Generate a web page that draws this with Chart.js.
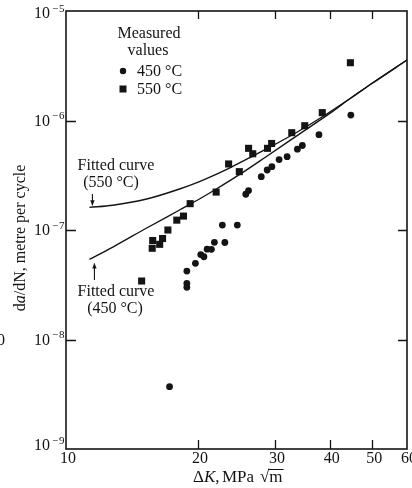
<!DOCTYPE html>
<html><head><meta charset="utf-8">
<script src="https://cdn.jsdelivr.net/npm/chart.js@4/dist/chart.umd.min.js"></script>
<style>html,body{margin:0;padding:0;background:#fff;overflow:hidden}#wrap{width:412px;height:488px}</style>
</head><body><div id="wrap"><canvas id="c" width="412" height="488"></canvas></div>
<script>
// ---- data (ΔK in MPa√m, da/dN in metre per cycle) ----
const deltaK450 = [17.23, 18.87, 18.87, 18.87, 19.74, 20.30, 20.64, 20.99, 21.47, 21.81, 22.74, 23.04, 24.60, 25.72, 26.10, 27.90, 28.78, 29.50, 30.64, 31.96, 33.73, 34.62, 37.78, 44.67];
const rate450   = [3.71e-9, 4.22e-8, 3.26e-8, 3.00e-8, 4.96e-8, 5.97e-8, 5.70e-8, 6.68e-8, 6.66e-8, 7.72e-8, 1.11e-7, 7.69e-8, 1.11e-7, 2.12e-7, 2.29e-7, 3.07e-7, 3.53e-7, 3.79e-7, 4.40e-7, 4.67e-7, 5.47e-7, 5.91e-7, 7.42e-7, 1.12e-6];
const deltaK550 = [14.88, 15.73, 15.77, 16.36, 16.61, 17.08, 17.90, 18.54, 19.20, 22.01, 23.50, 24.86, 26.10, 26.68, 28.83, 29.46, 32.75, 35.06, 38.44, 44.56];
const rate550   = [3.42e-8, 6.81e-8, 8.02e-8, 7.40e-8, 8.36e-8, 1.00e-7, 1.23e-7, 1.34e-7, 1.74e-7, 2.22e-7, 4.01e-7, 3.41e-7, 5.57e-7, 4.97e-7, 5.57e-7, 6.17e-7, 7.74e-7, 8.96e-7, 1.18e-6, 3.37e-6];
const fitK550    = [11.31, 12.79, 15.28, 18.16, 20.16, 23.47, 26.19, 29.39, 34.02, 38.38, 44.67, 49.87, 60];
const fitRate550 = [1.61e-7, 1.685e-7, 1.92e-7, 2.37e-7, 2.77e-7, 3.64e-7, 4.55e-7, 5.79e-7, 8.02e-7, 1.076e-6, 1.605e-6, 2.177e-6, 3.57e-6];
const fitK450    = [11.31, 12.79, 15.28, 18.16, 20.16, 22.03, 24.86, 28.62, 34.02, 40.44, 44.67, 49.87, 60];
const fitRate450 = [5.38e-8, 6.99e-8, 1.043e-7, 1.523e-7, 1.919e-7, 2.368e-7, 3.20e-7, 4.67e-7, 7.48e-7, 1.198e-6, 1.605e-6, 2.177e-6, 3.57e-6];
const xTickLabels = [10, 20, 30, 40, 50, 60];
const yTickExponents = [-5, -6, -7, -8, -9];

const pts = (xs, ys) => xs.map((v, i) => ({x: v, y: ys[i]}));
const INK = '#141414';
const SERIF = '"Liberation Serif", "DejaVu Serif", serif';

const deco = {
  id: 'deco',
  afterDraw(chart) {
    const {ctx, chartArea: ca, scales: {x, y}} = chart;
    ctx.save();
    ctx.strokeStyle = INK; ctx.fillStyle = INK;
    // frame
    ctx.lineWidth = 1.6;
    ctx.strokeRect(ca.left, ca.top, ca.width, ca.height);
    ctx.lineWidth = 1.3;
    // x ticks (inward, top & bottom)
    xTickLabels.forEach(v => {
      if (v === 10 || v === 60) return;
      const px = Math.round(x.getPixelForValue(v)) + 0.5;
      ctx.beginPath();
      ctx.moveTo(px, ca.bottom); ctx.lineTo(px, ca.bottom - 9);
      ctx.moveTo(px, ca.top); ctx.lineTo(px, ca.top + 8);
      ctx.stroke();
    });
    // y ticks
    yTickExponents.forEach(e => {
      if (e === -5 || e === -9) return;
      const py = Math.round(y.getPixelForValue(Math.pow(10, e))) + 0.5;
      ctx.beginPath();
      ctx.moveTo(ca.left, py); ctx.lineTo(ca.left + 10, py);
      ctx.moveTo(ca.right, py); ctx.lineTo(ca.right - 9, py);
      ctx.stroke();
    });
    // x tick labels
    ctx.font = '16px ' + SERIF;
    ctx.textAlign = 'center'; ctx.textBaseline = 'middle';
    xTickLabels.forEach(v => {
      ctx.fillText(String(v), x.getPixelForValue(v) + 2, 459);
    });
    // y tick labels 10^-n
    yTickExponents.forEach(e => {
      const py = Math.min(Math.max(y.getPixelForValue(Math.pow(10, e)) + 1, 14), 446);
      ctx.font = '16px ' + SERIF; ctx.textAlign = 'right'; ctx.textBaseline = 'middle';
      ctx.fillText('10', 50, py);
      ctx.font = '11px ' + SERIF; ctx.textAlign = 'left';
      ctx.fillText('\u2212', 52, py - 5);
      ctx.fillText(String(-e), 59, py - 5);
    });
    // legend
    ctx.font = '16px ' + SERIF; ctx.textAlign = 'center'; ctx.textBaseline = 'middle';
    ctx.fillText('Measured', 149, 34);
    ctx.fillText('values', 148, 51);
    ctx.beginPath(); ctx.arc(123, 71, 3.2, 0, Math.PI * 2); ctx.fill();
    ctx.fillRect(119.5, 85.5, 7, 7);
    ctx.textAlign = 'left';
    ctx.fillText('450 \u00B0C', 137, 72);
    ctx.fillText('550 \u00B0C', 137, 90);
    // fitted curve annotations
    ctx.textAlign = 'center';
    ctx.fillText('Fitted curve', 116, 166);
    ctx.fillText('(550 \u00B0C)', 111, 183);
    ctx.fillText('Fitted curve', 116, 292);
    ctx.fillText('(450 \u00B0C)', 115, 309);
    // arrows
    ctx.lineWidth = 1.1;
    const ax1 = x.getPixelForValue(fitK550[0]) + 3;
    const ty1 = y.getPixelForValue(fitRate550[0]) - 2;
    ctx.beginPath(); ctx.moveTo(ax1, 194); ctx.lineTo(ax1, ty1); ctx.stroke();
    ctx.beginPath(); ctx.moveTo(ax1 - 2.2, ty1 - 5); ctx.lineTo(ax1 + 2.2, ty1 - 5); ctx.lineTo(ax1, ty1 + 0.5); ctx.closePath(); ctx.fill();
    const ax2 = x.getPixelForValue(fitK450[0]) + 5;
    const ty2 = y.getPixelForValue(fitRate450[0]) + 4;
    ctx.beginPath(); ctx.moveTo(ax2, 280); ctx.lineTo(ax2, ty2); ctx.stroke();
    ctx.beginPath(); ctx.moveTo(ax2 - 2.2, ty2 + 5); ctx.lineTo(ax2 + 2.2, ty2 + 5); ctx.lineTo(ax2, ty2 - 0.5); ctx.closePath(); ctx.fill();
    // y axis title (rotated)
    ctx.save();
    ctx.translate(21, 238); ctx.rotate(-Math.PI / 2);
    ctx.textAlign = 'left'; ctx.textBaseline = 'middle';
    const parts = [['d', ''], ['a', 'italic '], ['/dN, metre per cycle', '']];
    let tw = 0;
    parts.forEach(p => { ctx.font = p[1] + '16px ' + SERIF; tw += ctx.measureText(p[0]).width; });
    let cx = -tw / 2;
    parts.forEach(p => { ctx.font = p[1] + '16px ' + SERIF; ctx.fillText(p[0], cx, 0); cx += ctx.measureText(p[0]).width; });
    ctx.restore();
    // x axis title
    ctx.textAlign = 'left'; ctx.textBaseline = 'middle';
    const XF = '17px ' + SERIF;
    ctx.font = XF;
    ctx.fillText('\u0394', 193, 478);
    let xx = 193 + ctx.measureText('\u0394').width;
    ctx.font = 'italic ' + XF;
    ctx.fillText('K', xx, 478);
    xx += ctx.measureText('K').width;
    ctx.font = XF;
    ctx.fillText(',', xx, 478);
    ctx.fillText('MPa', 222, 478);
    ctx.fillText('\u221A', 260, 478);
    const mx = 260 + ctx.measureText('\u221A').width;
    ctx.fillText('m', mx, 478);
    const mw = ctx.measureText('m').width;
    ctx.lineWidth = 1;
    ctx.beginPath(); ctx.moveTo(mx - 1, 469.5); ctx.lineTo(mx + mw + 1, 469.5); ctx.stroke();
    // stray cropped character at left margin of the original page
    ctx.font = '16px ' + SERIF;
    ctx.fillText('0', -3, 341);
    ctx.restore();
  }
};

new Chart(document.getElementById('c'), {
  type: 'scatter',
  data: {
    datasets: [
      {label: 'Fitted curve (550 °C)', data: pts(fitK550, fitRate550), showLine: true, borderColor: INK, borderWidth: 1.4, pointRadius: 0, cubicInterpolationMode: 'monotone', fill: false},
      {label: 'Fitted curve (450 °C)', data: pts(fitK450, fitRate450), showLine: true, borderColor: INK, borderWidth: 1.4, pointRadius: 0, cubicInterpolationMode: 'monotone', fill: false},
      {label: '450 °C', data: pts(deltaK450, rate450), showLine: false, pointStyle: 'circle', pointRadius: 3.4, backgroundColor: INK, borderWidth: 0},
      {label: '550 °C', data: pts(deltaK550, rate550), showLine: false, pointStyle: 'rect', pointRadius: 5, backgroundColor: INK, borderWidth: 0}
    ]
  },
  options: {
    responsive: false,
    animation: false,
    devicePixelRatio: 1,
    layout: {padding: {left: 66, right: 4, top: 11, bottom: 39}},
    plugins: {legend: {display: false}, tooltip: {enabled: false}},
    scales: {
      x: {type: 'logarithmic', min: 10, max: 60, display: false},
      y: {type: 'logarithmic', min: 1e-9, max: 1e-5, display: false}
    }
  },
  plugins: [deco, {id: 'bg', beforeDraw(c) { const g = c.ctx; g.save(); g.fillStyle = '#fff'; g.fillRect(0, 0, c.width, c.height); g.restore(); }}]
});
</script></body></html>
